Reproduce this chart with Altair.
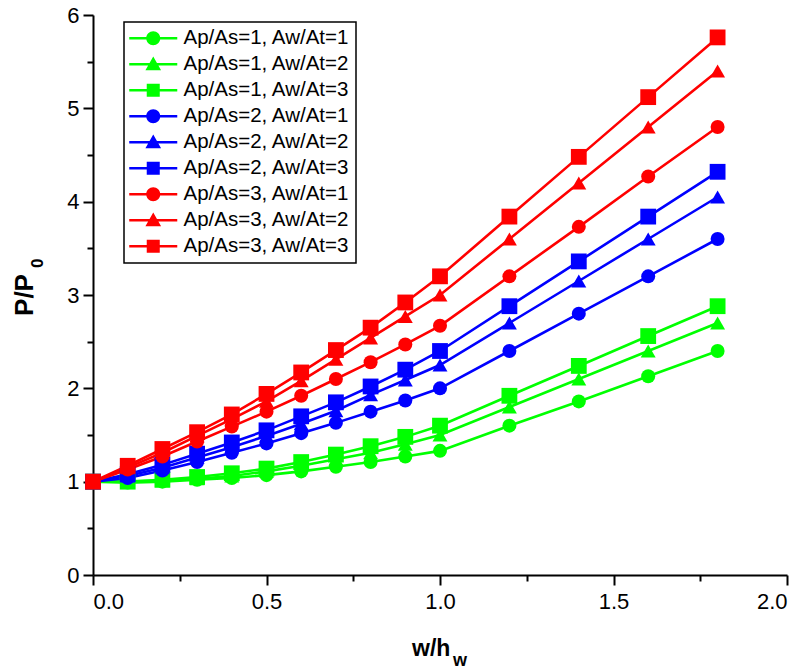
import altair as alt
import pandas as pd

x_vals = [0, 0.1, 0.2, 0.3, 0.4, 0.5, 0.6, 0.7, 0.8, 0.9, 1.0, 1.2, 1.4, 1.6, 1.8]

series_names = [
    "Ap/As=1, Aw/At=1", "Ap/As=1, Aw/At=2", "Ap/As=1, Aw/At=3",
    "Ap/As=2, Aw/At=1", "Ap/As=2, Aw/At=2", "Ap/As=2, Aw/At=3",
    "Ap/As=3, Aw/At=1", "Ap/As=3, Aw/At=2", "Ap/As=3, Aw/At=3",
]
series_colors = ["#00ff00"] * 3 + ["#0000ff"] * 3 + ["#ff0000"] * 3
series_shapes = ["circle", "triangle-up", "square"] * 3

y_g1 = [1.0, 0.99, 1.0, 1.02, 1.04, 1.07, 1.11, 1.16, 1.21, 1.27, 1.33, 1.6, 1.86, 2.13, 2.4]
y_g2 = [1.0, 1.0, 1.01, 1.03, 1.06, 1.11, 1.17, 1.24, 1.31, 1.4, 1.5, 1.8, 2.1, 2.4, 2.7]
y_g3 = [1.0, 1.0, 1.02, 1.05, 1.09, 1.14, 1.21, 1.29, 1.38, 1.48, 1.6, 1.92, 2.24, 2.56, 2.88]
y_b1 = [1.0, 1.04, 1.12, 1.21, 1.31, 1.41, 1.52, 1.63, 1.75, 1.87, 2.0, 2.4, 2.8, 3.2, 3.6]
y_b2 = [1.0, 1.06, 1.15, 1.26, 1.37, 1.49, 1.62, 1.76, 1.93, 2.09, 2.25, 2.7, 3.15, 3.6, 4.05]
y_b3 = [1.0, 1.08, 1.18, 1.3, 1.42, 1.55, 1.7, 1.85, 2.02, 2.2, 2.4, 2.88, 3.36, 3.84, 4.32]
y_r1 = [1.0, 1.13, 1.27, 1.43, 1.59, 1.75, 1.92, 2.1, 2.28, 2.47, 2.67, 3.2, 3.73, 4.27, 4.8]
y_r2 = [1.0, 1.15, 1.31, 1.49, 1.67, 1.86, 2.08, 2.31, 2.54, 2.77, 3.0, 3.6, 4.2, 4.8, 5.4]
y_r3 = [1.0, 1.17, 1.35, 1.53, 1.72, 1.94, 2.17, 2.41, 2.65, 2.92, 3.2, 3.84, 4.48, 5.12, 5.76]
all_y = [y_g1, y_g2, y_g3, y_b1, y_b2, y_b3, y_r1, y_r2, y_r3]

rows = []
for name, shape, ys in zip(series_names, series_shapes, all_y):
    for xv, yv in zip(x_vals, ys):
        rows.append({"x": xv, "y": yv, "series": name, "shape": shape})
df = pd.DataFrame(rows)

FONT = "Arial"

# legend symbols: a short line with the marker on it (units: 1 = half the symbol size)
line_part = "M-3.43,-0.19H3.43V0.19H-3.43Z "
legend_paths_base = [
    line_part + "M1,0A1,1 0 1,1 -1,0A1,1 0 1,1 1,0Z",
    line_part + "M0,-1.1L1.12,0.85L-1.12,0.85Z",
    line_part + "M-0.93,-0.93H0.93V0.93H-0.93Z",
]
legend_paths = legend_paths_base * 3

xscale = alt.Scale(domain=[0, 2], nice=False, zero=False)
yscale = alt.Scale(domain=[0, 6], nice=False)

x_axis = alt.Axis(
    values=[i * 0.25 for i in range(9)],
    labelExpr="datum.value % 0.5 === 0 ? format(datum.value, '.1f') : ''",
    tickSize={"condition": {"test": "datum.value % 0.5 === 0", "value": 10}, "value": 6},
    labelPadding=6,
    title=None,
)
y_axis = alt.Axis(
    values=[i * 0.5 for i in range(13)],
    labelExpr="datum.value % 1 === 0 ? format(datum.value, 'd') : ''",
    tickSize={"condition": {"test": "datum.value % 1 === 0", "value": 10}, "value": 6},
    labelPadding=4,
    title=None,
)

color_scale = alt.Scale(domain=series_names, range=series_colors)

lines = alt.Chart(df).mark_line(strokeWidth=2.6).encode(
    x=alt.X("x:Q", scale=xscale, axis=x_axis),
    y=alt.Y("y:Q", scale=yscale, axis=y_axis),
    color=alt.Color("series:N", scale=color_scale, legend=None),
)

points = alt.Chart(df).mark_point(filled=True, opacity=1).encode(
    x=alt.X("x:Q", scale=xscale),
    y=alt.Y("y:Q", scale=yscale),
    color=alt.Color("series:N", scale=color_scale, legend=None),
    shape=alt.Shape(
        "shape:N",
        scale=alt.Scale(domain=["circle", "triangle-up", "square"], range=["circle", "triangle-up", "square"]),
        legend=None,
    ),
    size=alt.Size(
        "shape:N",
        scale=alt.Scale(domain=["circle", "triangle-up", "square"], range=[196, 250, 177]),
        legend=None,
    ),
)

legend_def = alt.Legend(
    title=None,
    orient="none",
    legendX=31,
    legendY=7,
    direction="vertical",
    strokeColor="black",
    fillColor="white",
    padding=6,
    symbolSize=196,
    symbolOffset=13,
    symbolStrokeWidth=0,
    labelOffset=20,
    rowPadding=5,
    labelFont=FONT,
    labelFontSize=20.5,
    labelColor="black",
    labelLimit=400,
    cornerRadius=0,
)

legend_df = pd.DataFrame({"entry": series_names})
legend_layer = alt.Chart(legend_df).mark_point(filled=True, opacity=1).encode(
    color=alt.Color("entry:N", scale=alt.Scale(domain=series_names, range=series_colors), legend=legend_def),
    shape=alt.Shape("entry:N", scale=alt.Scale(domain=series_names, range=legend_paths), legend=legend_def),
).transform_filter("false")

x_title = pd.DataFrame({"t": ["w/h"]})
x_sub = pd.DataFrame({"t": ["w"]})
y_title = pd.DataFrame({"t": ["P/P"]})
y_sub = pd.DataFrame({"t": ["0"]})

xt = alt.Chart(x_title).mark_text(font=FONT, fontSize=23, fontWeight="bold", align="left", baseline="alphabetic", color="black").encode(
    text="t:N", x=alt.value(319), y=alt.value(641))
xs = alt.Chart(x_sub).mark_text(font=FONT, fontSize=18, fontWeight="bold", align="left", baseline="alphabetic", color="black").encode(
    text="t:N", x=alt.value(360), y=alt.value(651))
yt = alt.Chart(y_title).mark_text(font=FONT, fontSize=26, fontWeight="bold", align="center", baseline="alphabetic", angle=270, color="black").encode(
    text="t:N", x=alt.value(-60), y=alt.value(280))
ys = alt.Chart(y_sub).mark_text(font=FONT, fontSize=17, fontWeight="bold", align="left", baseline="alphabetic", angle=270, color="black").encode(
    text="t:N", x=alt.value(-50), y=alt.value(253))

chart = alt.layer(lines, points, legend_layer, xt, xs, yt, ys).resolve_scale(
    color="independent", shape="independent", size="independent"
).properties(
    width=694,
    height=560,
    padding={"left": 93, "top": 15, "right": 17, "bottom": 96},
    autosize="none",
    background="white",
).configure_view(stroke=None).configure_axis(
    domainColor="black",
    domainWidth=2,
    tickColor="black",
    tickWidth=2,
    labelFont=FONT,
    labelFontSize=22,
    labelColor="black",
    grid=False,
).configure_legend(strokeWidth=1.5)

chart.save("out.html", embed_options={"renderer": "svg", "actions": False})
